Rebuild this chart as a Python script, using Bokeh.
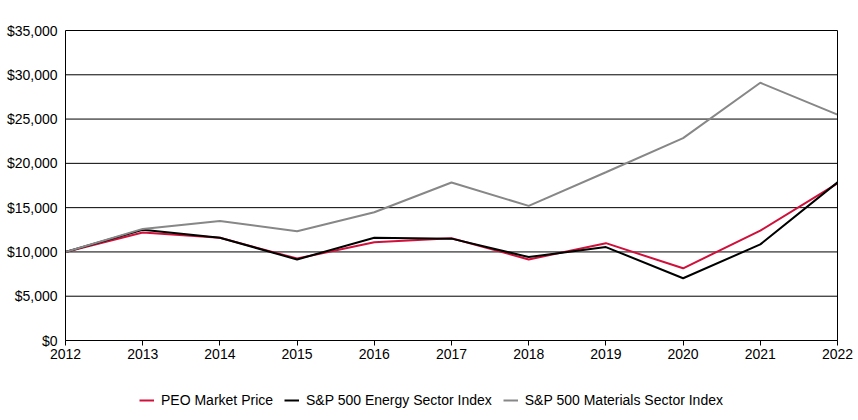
from bokeh.plotting import figure
from bokeh.models import (Legend, LegendItem, NumeralTickFormatter, FixedTicker,
                          Range1d, LinearAxis)
from bokeh.embed import file_html
from bokeh.resources import INLINE

years = [2012, 2013, 2014, 2015, 2016, 2017, 2018, 2019, 2020, 2021, 2022]
peo = [10000, 12200, 11600, 9250, 11100, 11550, 9150, 10990, 8150, 12400, 17750]
energy = [10000, 12500, 11600, 9150, 11600, 11500, 9420, 10550, 7030, 10850, 17850]
materials = [10000, 12600, 13500, 12340, 14480, 17840, 15200, 19000, 22850, 29100, 25500]
y_ticks = [0, 5000, 10000, 15000, 20000, 25000, 30000, 35000]
y_max = 35000

FONT = "Liberation Sans"

# Page geometry (pixels). The frame covers the whole figure, so the axes are
# pinned to the data area and the legend can sit below the x axis.
W, H = 858, 420
left_pad, right_pad, top_pad, bottom_pad = 65, 21, 30, 80
data_w = W - left_pad - right_pad
data_h = H - top_pad - bottom_pad
x0, x1 = years[0], years[-1]
per_px_x = (x1 - x0) / data_w
per_px_y = y_max / data_h

p = figure(width=W, height=H, output_backend="svg", toolbar_location=None,
           x_range=Range1d(x0 - left_pad * per_px_x, x1 + right_pad * per_px_x),
           y_range=Range1d(-bottom_pad * per_px_y, y_max + top_pad * per_px_y),
           min_border_left=0, min_border_right=0, min_border_top=0, min_border_bottom=0)
p.background_fill_color = "white"
p.border_fill_color = "white"
p.outline_line_color = None
p.xgrid.grid_line_color = None
p.ygrid.grid_line_color = None

# horizontal grid lines across the data area only
p.segment(x0=[x0] * len(y_ticks), x1=[x1] * len(y_ticks), y0=y_ticks, y1=y_ticks,
          line_color="black", line_width=1)

r1 = p.line(years, peo, line_color="#D0103A", line_width=2)
r2 = p.line(years, energy, line_color="black", line_width=2)
r3 = p.line(years, materials, line_color="#878787", line_width=2)

p.yaxis.ticker = FixedTicker(ticks=y_ticks)
p.xaxis.ticker = FixedTicker(ticks=years)
p.yaxis.formatter = NumeralTickFormatter(format="$0,0")
for ax in (p.xaxis, p.yaxis):
    ax.axis_line_color = "black"
    ax.major_label_text_font = FONT
    ax.major_label_text_font_size = "14px"
    ax.major_label_text_color = "black"
    ax.minor_tick_line_color = None
    ax.major_tick_in = 0
p.yaxis.fixed_location = x0
p.yaxis.bounds = (0, y_max)
p.yaxis.major_tick_out = 0
p.yaxis.major_label_standoff = 8
p.xaxis.fixed_location = 0
p.xaxis.bounds = (x0, x1)
p.xaxis.major_tick_out = 5
p.xaxis.major_tick_line_color = "black"
p.xaxis.major_label_standoff = 3

right_axis = LinearAxis(ticker=FixedTicker(ticks=[]), bounds=(0, y_max), fixed_location=x1,
                        axis_line_color="black", major_tick_line_color=None,
                        minor_tick_line_color=None)
p.add_layout(right_axis, "right")

legend = Legend(items=[LegendItem(label="PEO Market Price", renderers=[r1]),
                       LegendItem(label="S&P 500 Energy Sector Index", renderers=[r2]),
                       LegendItem(label="S&P 500 Materials Sector Index", renderers=[r3])],
                orientation="horizontal", location=(139, 10),
                label_text_font=FONT, label_text_font_size="14px", label_text_color="black",
                glyph_width=15, glyph_height=20, label_height=20, label_standoff=7,
                spacing=11, padding=0, margin=0,
                border_line_color=None, background_fill_alpha=0)
p.add_layout(legend, "center")

open("out.html", "w").write(file_html(p, INLINE))
